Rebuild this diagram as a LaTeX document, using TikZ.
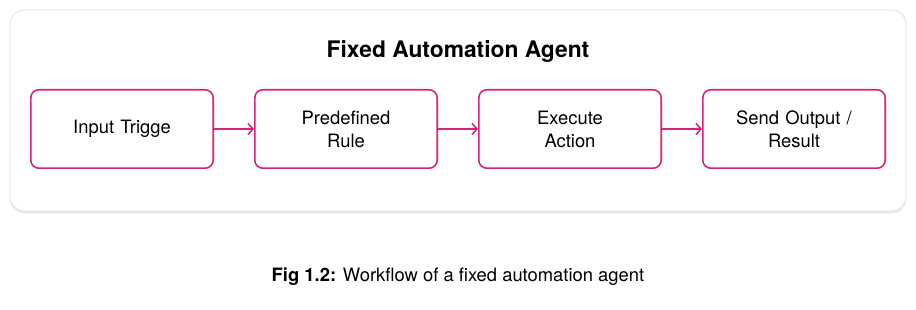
\documentclass[tikz,border=0pt]{standalone}
\usepackage{fontspec}
\setmainfont{TeX Gyre Heros}
\usepackage{xcolor}
\usepackage{tikz}
\usetikzlibrary{arrows.meta,positioning,shadows}
\definecolor{magenta}{HTML}{D4247C}
\definecolor{panelgray}{HTML}{E2E2E2}
\tikzset{
  panel/.style={
    rounded corners=14pt,draw=panelgray,fill=white,line width=.8pt,
    drop shadow={opacity=.15,shadow xshift=0pt,shadow yshift=-2.5pt}
  },
  stepbox/.style={
    rounded corners=8pt,draw=magenta,fill=white,
    line width=1.6pt,minimum height=78.4pt,minimum width=182.4pt,
    text width=170pt,align=center,font=\fontsize{18.4}{23}\selectfont
  },
  arrow/.style={-{Straight Barb[length=5pt,width=11pt]},draw=magenta,line width=1.5pt}
}
\begin{document}
\begin{tikzpicture}[x=1pt,y=-1pt,node distance=40pt]
\useasboundingbox (0,0) rectangle (916,310);
\fill[white] (0,0) rectangle (916,310);
\draw[panel] (10,10) rectangle (906,211);

\node[font=\fontsize{22.8}{26}\selectfont\bfseries] (title) at (458,51) {Fixed Automation Agent};

\node[stepbox] (input) at (122,129) {Input Trigge};
\node[stepbox,right=of input] (rule) {Predefined\\Rule};
\node[stepbox,right=of rule] (action) {Execute\\Action};
\node[stepbox,right=of action] (output) {Send Output /\\Result};

\draw[arrow] (input)--(rule);
\draw[arrow] (rule)--(action);
\draw[arrow] (action)--(output);

\node[font=\fontsize{18.4}{22}\selectfont] (caption) at (458,277)
{\textbf{Fig 1.2:} Workflow of a fixed automation agent};
\end{tikzpicture}
\end{document}
